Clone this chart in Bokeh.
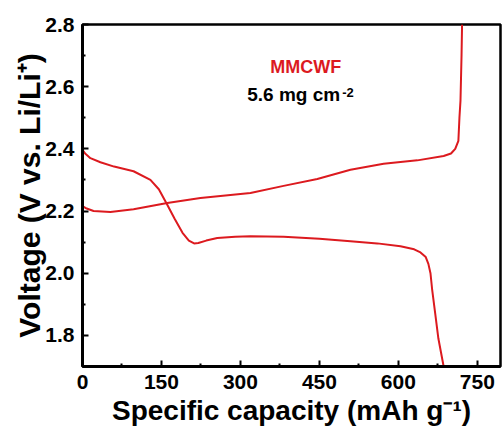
from bokeh.plotting import figure
from bokeh.models import Label, FixedTicker, PrintfTickFormatter, Range1d
from bokeh.embed import file_html
from bokeh.resources import INLINE

# ---- data ----
discharge_cap = [0, 5, 15, 34, 60, 97, 129, 145, 161, 175, 190, 202, 212, 220, 235, 256, 290, 319, 382, 450, 509, 560, 604, 630, 642, 652, 657, 661, 664, 670, 676, 686]
discharge_v = [2.397, 2.385, 2.37, 2.357, 2.343, 2.328, 2.30, 2.27, 2.22, 2.175, 2.13, 2.105, 2.096, 2.097, 2.105, 2.113, 2.117, 2.119, 2.117, 2.111, 2.103, 2.096, 2.087, 2.077, 2.067, 2.052, 2.03, 2.0, 1.95, 1.87, 1.79, 1.70]
charge_cap = [0, 8, 21, 53, 97, 161, 224, 319, 382, 446, 509, 572, 636, 686, 700, 708, 714, 716, 718, 720, 721]
charge_v = [2.216, 2.208, 2.2, 2.197, 2.206, 2.226, 2.242, 2.258, 2.281, 2.303, 2.333, 2.352, 2.363, 2.377, 2.385, 2.40, 2.426, 2.5, 2.555, 2.7, 2.8]

x_ticks = [0, 150, 300, 450, 600, 750]
y_ticks = [1.8, 2.0, 2.2, 2.4, 2.6, 2.8]
x_minor = [75, 225, 375, 525, 675]
y_minor = [1.7, 1.9, 2.1, 2.3, 2.5, 2.7]
sample_name = "MMCWF"
loading_text = "5.6 mg cm"
loading_sup = "-2"
x_label = "Specific capacity (mAh g\u207b\u00b9)"
y_label = "Voltage (V vs. Li/Li\u207a)"

RED = "#dc1a1f"
FONT = "Liberation Sans"

p = figure(width=502, height=432, output_backend="svg", toolbar_location=None,
           x_range=Range1d(0, 794), y_range=Range1d(1.7, 2.8),
           min_border_left=82, min_border_right=2, min_border_top=24, min_border_bottom=66)
p.background_fill_color = "white"
p.border_fill_color = "white"
p.grid.visible = False
p.outline_line_color = "black"
p.outline_line_width = 2.5

p.line(discharge_cap, discharge_v, line_color=RED, line_width=2)
p.line(charge_cap, charge_v, line_color=RED, line_width=2)

for ax in (p.xaxis[0], p.yaxis[0]):
    ax.axis_line_width = 3
    ax.axis_line_color = "black"
    ax.major_tick_in = 6
    ax.major_tick_out = 0
    ax.minor_tick_in = 3
    ax.minor_tick_out = 0
    ax.major_tick_line_width = 2
    ax.minor_tick_line_width = 2
    ax.major_label_text_font = FONT
    ax.major_label_text_font_style = "bold"
    ax.major_label_text_font_size = "21px"
    ax.major_label_text_color = "black"
    ax.axis_label_text_font = FONT
    ax.axis_label_text_font_style = "bold"
    ax.axis_label_text_color = "black"

p.xaxis.ticker = FixedTicker(ticks=x_ticks, minor_ticks=x_minor)
p.yaxis.ticker = FixedTicker(ticks=y_ticks, minor_ticks=y_minor)
p.yaxis.formatter = PrintfTickFormatter(format="%.1f")
p.xaxis.major_label_standoff = 8
p.yaxis.major_label_standoff = 8

p.xaxis.axis_label = x_label
p.xaxis.axis_label_text_font_size = "28px"
p.xaxis.axis_label_standoff = 3
p.yaxis.axis_label = y_label
p.yaxis.axis_label_text_font_size = "30px"
p.yaxis.axis_label_standoff = -4

# annotations
p.add_layout(Label(x=424, y=2.63, text=sample_name, text_align="center", text_font=FONT,
                   text_font_style="bold", text_font_size="18px", text_color=RED))
p.add_layout(Label(x=313, y=2.54, text=loading_text, text_align="left", text_font=FONT,
                   text_font_style="bold", text_font_size="19px", text_color="black"))
p.add_layout(Label(x=313, y=2.54, x_offset=95, y_offset=8, text=loading_sup, text_align="left",
                   text_font=FONT, text_font_style="bold", text_font_size="13px", text_color="black"))

open("out.html", "w").write(file_html(p, INLINE))
